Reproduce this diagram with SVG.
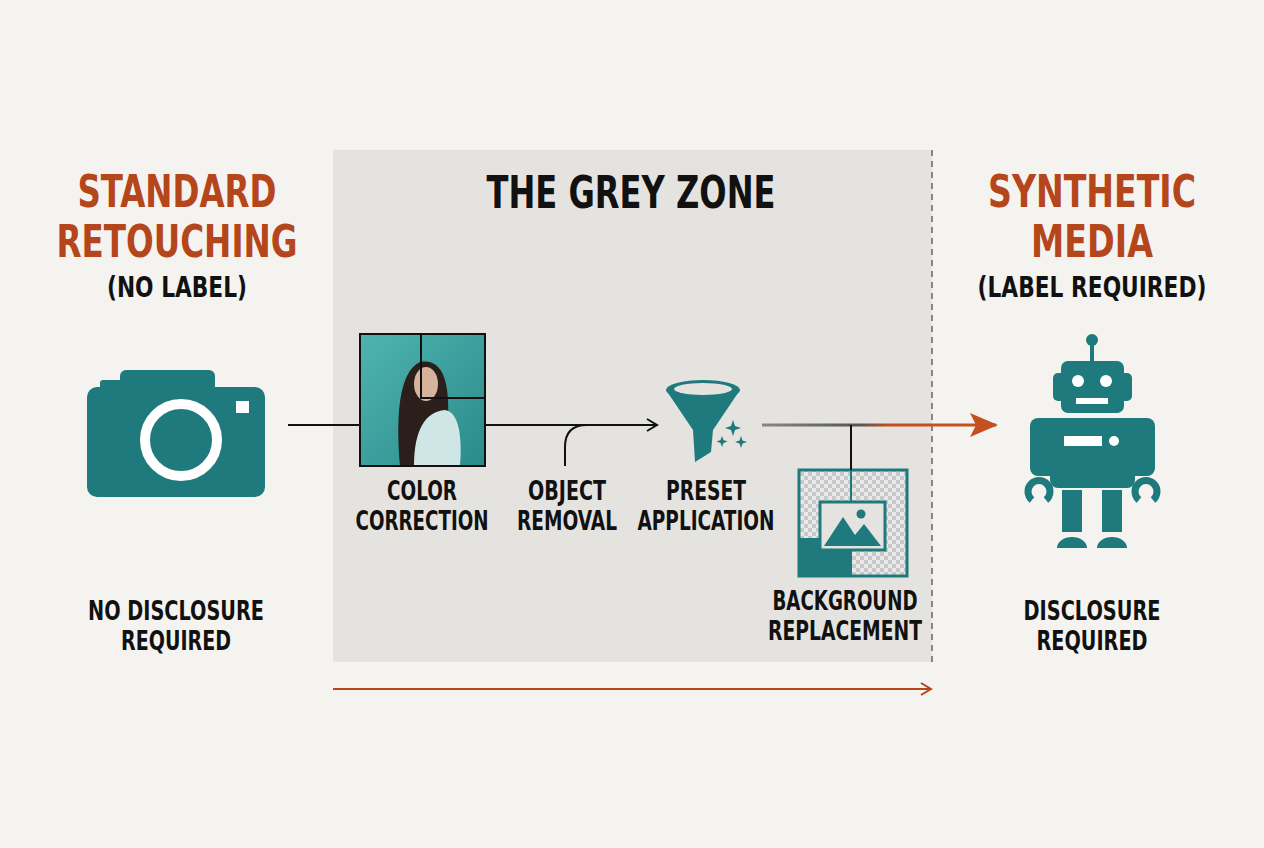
<svg xmlns="http://www.w3.org/2000/svg" width="1264" height="848" viewBox="0 0 1264 848">
<defs>
<style>
.t{font-family:"DejaVu Sans Condensed","Liberation Sans Narrow","Liberation Sans",sans-serif;font-weight:bold;text-anchor:middle}
.or{fill:#b5451b;font-size:44px}
.bk{fill:#111;font-size:28px}
.lb{fill:#111;font-size:26px}
.teal{fill:#1f7a7d}
.ln{stroke:#111;stroke-width:2;fill:none}
</style>
<marker id="ah" markerWidth="14" markerHeight="14" refX="12" refY="7" orient="auto" markerUnits="userSpaceOnUse"><path d="M2,1 L12,7 L2,13" fill="none" stroke="#111" stroke-width="2"/></marker>
<marker id="aho" markerWidth="14" markerHeight="14" refX="12" refY="7" orient="auto" markerUnits="userSpaceOnUse"><path d="M2,1 L12,7 L2,13" fill="none" stroke="#b5451b" stroke-width="2"/></marker>
<linearGradient id="gl" x1="762" x2="975" y1="0" y2="0" gradientUnits="userSpaceOnUse"><stop offset="0" stop-color="#888"/><stop offset="0.45" stop-color="#555"/><stop offset="0.6" stop-color="#c4501f"/><stop offset="1" stop-color="#c4501f"/></linearGradient>
<linearGradient id="ph" x1="0" x2="1" y1="0" y2="1"><stop offset="0" stop-color="#4fb3b0"/><stop offset="1" stop-color="#2a8c8a"/></linearGradient>
<pattern id="ck" width="8" height="8" patternUnits="userSpaceOnUse"><rect width="8" height="8" fill="#e8e8e8"/><rect width="4" height="4" fill="#c8c8c8"/><rect x="4" y="4" width="4" height="4" fill="#c8c8c8"/></pattern>
</defs>
<rect width="1264" height="848" fill="#f4f3ef"/>
<g id="greyzone">
<rect x="333" y="150" width="599" height="512" fill="#e4e3df"/>
<line x1="932" y1="150" x2="932" y2="662" stroke="#666" stroke-width="1.5" stroke-dasharray="6,5"/>
<text class="t" x="631" y="208" font-size="44" fill="#111" textLength="289" lengthAdjust="spacingAndGlyphs">THE GREY ZONE</text>
</g>
<g id="left-title">
<text class="t or" x="177" y="207" textLength="199" lengthAdjust="spacingAndGlyphs">STANDARD</text>
<text class="t or" x="177" y="257" textLength="241" lengthAdjust="spacingAndGlyphs">RETOUCHING</text>
<text class="t bk" x="177" y="297" textLength="140" lengthAdjust="spacingAndGlyphs">(NO LABEL)</text>
</g>
<g id="right-title">
<text class="t or" x="1092" y="207" textLength="208" lengthAdjust="spacingAndGlyphs">SYNTHETIC</text>
<text class="t or" x="1092" y="257" textLength="122" lengthAdjust="spacingAndGlyphs">MEDIA</text>
<text class="t bk" x="1092" y="297" textLength="229" lengthAdjust="spacingAndGlyphs">(LABEL REQUIRED)</text>
</g>
<g id="camera">
<rect x="120" y="370" width="95" height="30" rx="6" class="teal"/>
<rect x="100" y="380" width="30" height="20" rx="3" class="teal"/>
<rect x="87" y="387" width="178" height="110" rx="10" class="teal"/>
<circle cx="181" cy="440" r="36" fill="none" stroke="#fff" stroke-width="10"/>
<rect x="236" y="401" width="13" height="12" fill="#fff"/>
<text class="t lb" x="176" y="620" textLength="176" lengthAdjust="spacingAndGlyphs">NO DISCLOSURE</text>
<text class="t lb" x="176" y="650" textLength="110" lengthAdjust="spacingAndGlyphs">REQUIRED</text>
</g>
<g id="color-correction">
<rect x="360" y="334" width="125" height="132" fill="url(#ph)"/>
<path d="M400,466 C396,420 398,372 420,362 C442,358 450,380 448,420 L455,466 Z" fill="#2a1f1a"/>
<ellipse cx="426" cy="384" rx="12" ry="17" fill="#d7b39e"/>
<path d="M414,466 C414,430 425,412 445,410 C460,412 462,440 460,466 Z" fill="#cfe6e6"/>
<rect x="360" y="334" width="125" height="132" class="ln"/>
<path d="M421,334 V398 H485" class="ln"/>
<text class="t lb" x="422" y="500" textLength="70" lengthAdjust="spacingAndGlyphs">COLOR</text>
<text class="t lb" x="422" y="530" textLength="133" lengthAdjust="spacingAndGlyphs">CORRECTION</text>
</g>
<g id="object-removal">
<text class="t lb" x="567" y="500" textLength="78" lengthAdjust="spacingAndGlyphs">OBJECT</text>
<text class="t lb" x="567" y="530" textLength="100" lengthAdjust="spacingAndGlyphs">REMOVAL</text>
</g>
<g id="preset-application">
<path d="M666,390 L693,430 L695,462 L711,452 L713,430 L740,390 Z" class="teal"/>
<ellipse cx="703" cy="390" rx="37" ry="10" class="teal"/>
<ellipse cx="703" cy="389" rx="29" ry="6" fill="#e4e3df"/>
<path d="M733,420 l2,6 6,2 -6,2 -2,6 -2,-6 -6,-2 6,-2z M722,436 l1.5,4 4,1.5 -4,1.5 -1.5,4 -1.5,-4 -4,-1.5 4,-1.5z M741,436 l1.5,4.5 4.5,1.5 -4.5,1.5 -1.5,4.5 -1.5,-4.5 -4.5,-1.5 4.5,-1.5z" class="teal"/>
<text class="t lb" x="706" y="500" textLength="80" lengthAdjust="spacingAndGlyphs">PRESET</text>
<text class="t lb" x="706" y="530" textLength="137" lengthAdjust="spacingAndGlyphs">APPLICATION</text>
</g>
<g id="background-replacement">
<rect x="799" y="470" width="108" height="106" fill="url(#ck)"/>
<rect x="799" y="538" width="52" height="38" class="teal"/>
<rect x="799" y="470" width="108" height="106" fill="none" stroke="#1f7a7d" stroke-width="3"/>
<line x1="851" y1="470" x2="851" y2="576" stroke="#1f7a7d" stroke-width="2"/>
<rect x="820" y="502" width="65" height="48" fill="#e4e3df" stroke="#1f7a7d" stroke-width="3"/>
<path d="M824,546 L843,517 L855,535 L864,524 L881,546 Z" class="teal"/>
<circle cx="861" cy="514" r="4.5" class="teal"/>
<text class="t lb" x="845" y="610" textLength="145" lengthAdjust="spacingAndGlyphs">BACKGROUND</text>
<text class="t lb" x="845" y="640" textLength="154" lengthAdjust="spacingAndGlyphs">REPLACEMENT</text>
</g>
<g id="robot" class="teal">
<circle cx="1092" cy="340" r="6"/>
<rect x="1090" y="342" width="4" height="20"/>
<rect x="1061" y="361" width="63" height="52" rx="7"/>
<rect x="1053" y="373" width="79" height="28" rx="5"/>
<circle cx="1078" cy="381" r="6" fill="#fff"/>
<circle cx="1106" cy="381" r="6" fill="#fff"/>
<rect x="1076" y="398" width="32" height="6" fill="#fff"/>
<rect x="1030" y="418" width="125" height="58" rx="8"/>
<rect x="1050" y="418" width="85" height="70" rx="8"/>
<rect x="1064" y="436" width="38" height="10" fill="#fff"/>
<circle cx="1114" cy="441" r="5" fill="#fff"/>
<rect x="1062" y="490" width="20" height="42"/>
<rect x="1102" y="490" width="20" height="42"/>
<path d="M1057,548 a15,11 0 0 1 30,0 z M1097,548 a15,11 0 0 1 30,0 z"/>
<path d="M1032,500 a11,11 0 1 1 14,0" fill="none" stroke="#1f7a7d" stroke-width="7"/>
<path d="M1139,500 a11,11 0 1 1 14,0" fill="none" stroke="#1f7a7d" stroke-width="7"/>
<text class="t lb" x="1092" y="620" fill="#111" textLength="137" lengthAdjust="spacingAndGlyphs">DISCLOSURE</text>
<text class="t lb" x="1092" y="650" fill="#111" textLength="111" lengthAdjust="spacingAndGlyphs">REQUIRED</text>
</g>
<g id="connectors">
<line x1="288" y1="425" x2="360" y2="425" class="ln"/>
<line x1="485" y1="425" x2="657" y2="425" class="ln" marker-end="url(#ah)"/>
<path d="M565,466 V447 Q565,425 587,425" class="ln"/>
<line x1="762" y1="425" x2="996" y2="425" stroke="url(#gl)" stroke-width="3"/>
<path d="M970,413 L998,425 L970,437 L976,425 Z" fill="#c4501f"/>
<line x1="851" y1="425" x2="851" y2="470" class="ln"/>
<line x1="333" y1="689" x2="931" y2="689" stroke="#b5451b" stroke-width="2" marker-end="url(#aho)"/>
</g>
</svg>
